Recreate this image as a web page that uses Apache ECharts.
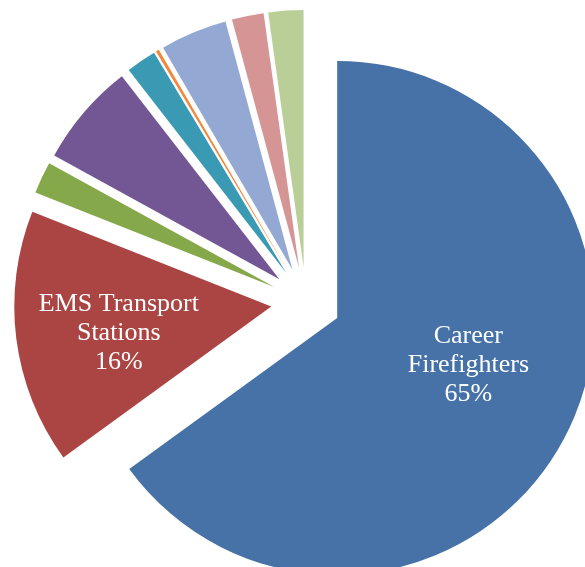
<!DOCTYPE html>
<html>
<head>
<meta charset="utf-8">
<script src="https://cdn.jsdelivr.net/npm/echarts@6/dist/echarts.min.js"></script>
<style>
  html, body { margin: 0; padding: 0; background: #fff; }
  #chart { width: 585px; height: 567px; }
</style>
</head>
<body>
<div id="chart"></div>
<script>
// slices, clockwise from 12 o'clock
const categories = [
    'Career\nFirefighters',
    'EMS Transport\nStations',
    'Other A',
    'Other B',
    'Other C',
    'Other D',
    'Other E',
    'Other F',
    'Other G'
]
const values = [65.0, 16.0, 2.0, 6.5, 1.9, 0.2, 4.2, 2.0, 2.2]
const colors = ['#4672a8', '#ab4543', '#85a84a', '#735694', '#3a9ab3', '#f0883e', '#93a8d2', '#d59595', '#bacf98']
const labelled = [true, true, false, false, false, false, false, false, false]

const chart = echarts.init(document.getElementById('chart'))

const option = {
    animation: false,
    series: [
        {
            type: 'pie',
            center: [306, 302],
            radius: [0, 257],
            startAngle: 90,
            clockwise: true,
            selectedMode: 'multiple',
            selectedOffset: 35,
            percentPrecision: 0,
            emphasis: { disabled: true },
            labelLine: { show: false },
            label: {
                position: 'inside',
                formatter: '{b}\n{d}%',
                color: '#fff',
                fontFamily: 'Liberation Serif',
                fontSize: 26,
                lineHeight: 29
            },
            // nudge text to where the original places it
            labelLayout: (params) => {
                if (params.dataIndex === 0) return { dx: 14, dy: -12 }
                if (params.dataIndex === 1) return { dx: -22, dy: 10 }
                return {}
            },
            data: values.map((v, i) => ({
                name: categories[i],
                value: v,
                selected: true,
                itemStyle: { color: colors[i] },
                label: { show: labelled[i] }
            }))
        }
    ]
}

chart.setOption(option)
</script>
</body>
</html>
